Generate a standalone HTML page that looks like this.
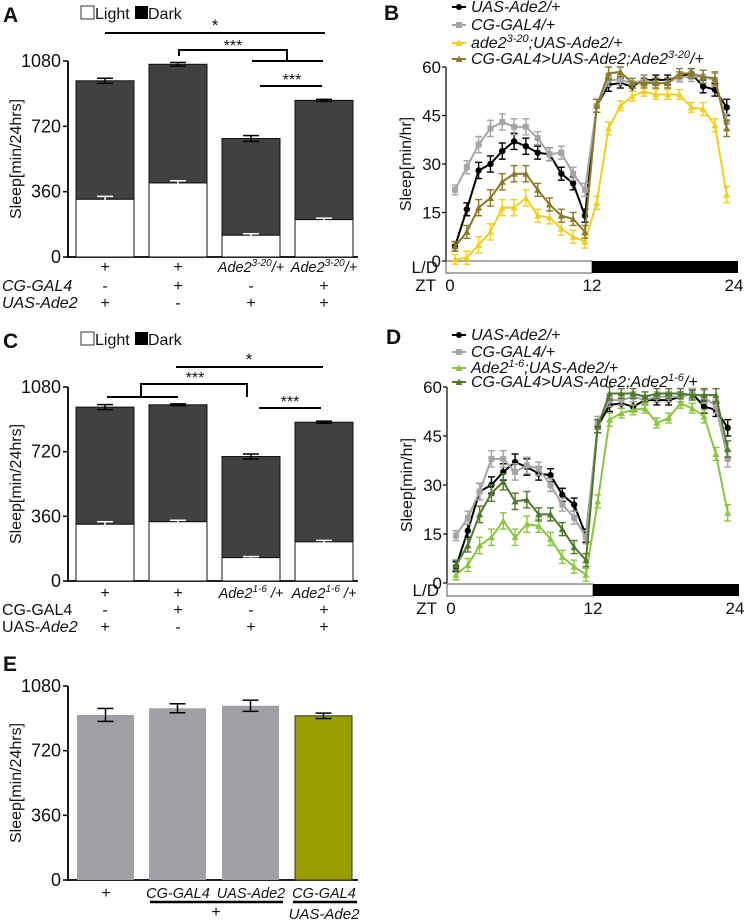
<!DOCTYPE html>
<html><head><meta charset="utf-8"><style>
html,body{margin:0;padding:0;background:#fff;}
svg{display:block;font-family:"Liberation Sans",Arial,sans-serif;}
</style></head><body>
<svg id="fig" width="749" height="923" viewBox="0 0 749 923" xmlns="http://www.w3.org/2000/svg"></svg>
<script>
// ---------- data ----------
const barGroups = ["g1","g2","g3","g4"];
const aTotal = [971, 1062, 653, 863];
const aLight = [318, 408, 120, 206];
const aTotalErr = [14, 10, 16, 6];
const aLightErr = [16, 12, 8, 8];
const cTotal = [968, 981, 693, 884];
const cLight = [316, 330, 130, 218];
const cTotalErr = [14, 5, 14, 6];
const cLightErr = [14, 8, 6, 8];
const eValues = [919, 956, 970, 914];
const eErr = [36, 25, 31, 15];
const barTicks = [0, 360, 720, 1080];

const hours = [1,2,3,4,5,6,7,8,9,10,11,12,13,14,15,16,17,18,19,20,21,22,23,24];
const lineTicks = [0, 15, 30, 45, 60];
const bUas  = [4.5,16,28,30,34,37,35.5,33.5,33,27,24,14,48,54.5,55,54,56,56,56,57,58,54,53,47.5];
const bCg   = [22,29,36,41,43,41.5,41.5,38,33,33.5,27,22,48,56,56,55,56,55,55,57,57,57,56,43];
const bMut  = [0.5,1,5,9,16.5,16.5,19.5,14,13.5,10,7.5,6,18,41,48,51,52.5,51.5,51.5,51.5,47.5,47,42,20.5];
const bRes  = [4.5,9,16.5,19.5,24.5,27,27,22,17.5,14,13,9,48,58,58.5,55,55,55,55,58,58,57,56.5,41];
const dUas  = [5,16,28,30,34,37,35.5,33.5,33,27,24,14.5,48,54.5,55,54,56,56,56,57,58,54,53,47.5];
const dCg   = [14.5,20,28,38,38,34,36,35,30,24,20,14,49,56,56,57,56,57,57,57,58,57,54,38];
const dMut  = [2.5,5.5,11.5,14,19,14,18,17.5,13.5,8,5,2.5,25,50,52,53,53.5,49,50.5,55,53.5,51,39.5,21.5];
const dRes  = [5.5,11.5,21,27.5,31,25,25.5,21,21,16.5,11,7,48,58,58,58,57,58,58,58,57.5,57.5,57.5,41];
const lineErr = [1.5,2,2.5,2.5,2.5,2.5,2.5,2,2,2,2,2,2,2,1.5,1.5,1.5,1.5,1.5,1.5,1.5,2,2,2.5];

// ---------- helpers ----------
const NS="http://www.w3.org/2000/svg";
const svg=document.getElementById('fig');
function mk(tag,attrs,parent,text){const e=document.createElementNS(NS,tag);for(const k in attrs)e.setAttribute(k,attrs[k]);if(text!==undefined)e.textContent=text;(parent||svg).appendChild(e);return e;}
function grp(name,parent){const g=mk('g',{},parent);return g;}
function txt(parent,x,y,s,opt){opt=opt||{};const t=mk('text',{x:x,y:y,'font-size':opt.size||15,'text-anchor':opt.anchor||'middle',fill:opt.fill||'#111'},parent);if(opt.italic)t.setAttribute('font-style','italic');if(opt.bold)t.setAttribute('font-weight','bold');if(opt.rot)t.setAttribute('transform','rotate(-90 '+x+' '+y+')');t.innerHTML=s;return t;}
function line(p,x1,y1,x2,y2,c,w){return mk('line',{x1:x1,y1:y1,x2:x2,y2:y2,stroke:c||'#000','stroke-width':w||1.5},p);}

const barX=[76,149,222,295], barW=58;
function barAxis(name,y0,y1080,xEnd){
  const g=grp(name+'-axes');
  const ys=v=>y0-(v/1080)*(y0-y1080);
  line(g,68,y1080,68,y0+1,'#000',1.8);
  line(g,68,y0,xEnd,y0,'#000',1.8);
  barTicks.forEach(t=>{line(g,63,ys(t),68,ys(t),'#000',1.5);const l=txt(g,61,ys(t)+6,t,{anchor:'end',size:18});});
  const yl=txt(g,21,(y0+y1080)/2,'Sleep[min/24hrs]',{size:16,rot:true});
  
  return ys;
}
function errBar(p,x,y,e,ys,c){line(p,x,ys(y+e),x,ys(y-e),c,1.5);line(p,x-8,ys(y+e),x+8,ys(y+e),c,1.5);line(p,x-8,ys(y-e),x+8,ys(y-e),c,1.5);}
function stacked(name,ys,tot,lig,tErr,lErr){
  const g=grp(name+'-bars');
  barGroups.forEach((k,i)=>{
    const x=barX[i];
    const d=mk('rect',{x:x,y:ys(tot[i]),width:barW,height:ys(lig[i])-ys(tot[i]),fill:'#414141',stroke:'#111','stroke-width':1},g);
    
    const l=mk('rect',{x:x,y:ys(lig[i]),width:barW,height:ys(0)-ys(lig[i]),fill:'#fff',stroke:'#111','stroke-width':1},g);
    
    errBar(g,x+barW/2,tot[i],tErr[i],ys,'#000');
    errBar(g,x+barW/2,lig[i],lErr[i],ys,'#fff');
  });
}
function legendLD(y,name){
  const g=grp(name);
  mk('rect',{x:81,y:y-13,width:13,height:13,fill:'#fff',stroke:'#333'},g);
  txt(g,95,y,'Light',{anchor:'start',size:16});
  mk('rect',{x:135,y:y-13,width:13,height:13,fill:'#000'},g);
  txt(g,148,y,'Dark',{anchor:'start',size:16});
}

// ---------- Panel A ----------
txt(svg,3,22,'A',{anchor:'start',size:21,bold:true});
legendLD(19,'legend-a');
let ysA=barAxis('panel-a',257,61,358);
stacked('panel-a',ysA,aTotal,aLight,aTotalErr,aLightErr);
{const g=grp('significance-a');
 txt(g,215,31,'*',{size:17});line(g,105,33,325,33,'#000',2);
 txt(g,233,51,'***',{size:16});
 mk('polyline',{points:'179,56 179,50 287,50 287,61',fill:'none',stroke:'#000','stroke-width':2},g);
 line(g,252,61,323,61,'#000',2);
 txt(g,292,85,'***',{size:16});line(g,260,86,322,86,'#000',2);
 const cx=barX.map(x=>x+barW/2);
 ['+','+','Ade2<tspan dy="-6" font-size="10">3-20</tspan><tspan dy="6">/+</tspan>','Ade2<tspan dy="-6" font-size="10">3-20</tspan><tspan dy="6">/+</tspan>'].forEach((s,i)=>txt(g,cx[i],272,s,{size:i>1?14.5:16,italic:i>1}));
 txt(g,2,291,'CG-GAL4',{anchor:'start',size:16,italic:true});
 ['-','+','-','+'].forEach((s,i)=>txt(g,cx[i],291,s,{size:16}));
 txt(g,2,308,'UAS-Ade2',{anchor:'start',size:16,italic:true});
 ['+','-','+','+'].forEach((s,i)=>txt(g,cx[i],308,s,{size:16}));
}

// ---------- Panel C ----------
txt(svg,3,348,'C',{anchor:'start',size:21,bold:true});
legendLD(345,'legend-c');
let ysC=barAxis('panel-c',581,387,358);
stacked('panel-c',ysC,cTotal,cLight,cTotalErr,cLightErr);
{const g=grp('significance-c');
 txt(g,249,365,'*',{size:17});line(g,176,367,323,367,'#000',2);
 txt(g,195,383,'***',{size:16});
 mk('polyline',{points:'141,397 141,384 247,384 247,397',fill:'none',stroke:'#000','stroke-width':2},g);
 line(g,107,397,178,397,'#000',2);
 txt(g,290,407,'***',{size:16});line(g,259,408,321,408,'#000',2);
 const cx=barX.map(x=>x+barW/2);
 ['+','+','Ade2<tspan dy="-6" font-size="10">1-6</tspan><tspan dy="6"> /+</tspan>','Ade2<tspan dy="-6" font-size="10">1-6</tspan><tspan dy="6"> /+</tspan>'].forEach((s,i)=>txt(g,cx[i],598,s,{size:i>1?14.5:16,italic:i>1}));
 txt(g,2,615,'CG-GAL4',{anchor:'start',size:16});
 ['-','+','-','+'].forEach((s,i)=>txt(g,cx[i],615,s,{size:16}));
 txt(g,2,632,'UAS-<tspan font-style="italic">Ade2</tspan>',{anchor:'start',size:16});
 ['+','-','+','+'].forEach((s,i)=>txt(g,cx[i],632,s,{size:16}));
}

// ---------- Panel E ----------
txt(svg,3,671,'E',{anchor:'start',size:21,bold:true});
let ysE=barAxis('panel-e',880,686,358);
{const g=grp('panel-e-bars');
 const ex=[77,149,222,295], ew=57;
 eValues.forEach((v,i)=>{
  const r=mk('rect',{x:ex[i],y:ysE(v),width:ew,height:ysE(0)-ysE(v),fill:i<3?'#a09fa6':'#9a9d00',stroke:i<3?'none':'#333','stroke-width':1},g);
  
  errBar(g,ex[i]+ew/2,v,eErr[i],ysE,'#000');
 });
 txt(g,106,898,'+',{size:16});
 txt(g,178,898,'CG-GAL4',{size:14.5,italic:true});
 txt(g,251,898,'UAS-Ade2',{size:14.5,italic:true});
 txt(g,324,898,'CG-GAL4',{size:14.5,italic:true});
 line(g,150,902,283,902,'#000',2.5);line(g,293,902,357,902,'#000',2.5);
 txt(g,216,917,'+',{size:16});
 txt(g,324,919,'UAS-Ade2',{size:15,italic:true});
}

// ---------- line panels ----------
function linePanel(name,x0,x24,y0,y60,series,legendY,ldTop){
  const g=grp(name);
  const xs=h=>x0+(0.74+(h-1)*0.971)/24*(x24-x0);
  const ys=v=>y0-v/60*(y0-y60);
  line(g,x0,y60,x0,y0,'#000',1.2);
  lineTicks.forEach(t=>{line(g,x0-4,ys(t),x0,ys(t),'#000',1.2);const l=txt(g,x0-5,ys(t)+6,t,{anchor:'end',size:17});});
  const yl=txt(g,x0-35,(y0+y60)/2,'Sleep[min/hr]',{size:16,rot:true});
  
  const mid=(x0+x24)/2;
  const ld=grp(name+'-ld-bar',g);
  mk('rect',{x:x0,y:ldTop,width:mid-x0,height:12,fill:'#fff',stroke:'#555'},ld);
  mk('rect',{x:mid,y:ldTop,width:x24-mid,height:12,fill:'#000'},ld);
  txt(g,x0-8,ldTop+12,'L/D',{anchor:'end',size:17});
  txt(g,x0-10,ldTop+30,'ZT',{anchor:'end',size:17});
  txt(g,x0+4,ldTop+30,'0',{size:17});txt(g,mid,ldTop+30,'12',{size:17});txt(g,x24-4,ldTop+30,'24',{size:17});
  series.forEach((s,si)=>{
    const sg=grp(name+'-series-'+s.key,g);
    const pts=hours.map((h,i)=>xs(h)+','+ys(s.vals[i])).join(' ');
    mk('polyline',{points:pts,fill:'none',stroke:s.c,'stroke-width':2},sg);
    hours.forEach((h,i)=>{
      const x=xs(h),v=s.vals[i],e=lineErr[i];
      line(sg,x,ys(v+e),x,ys(v-e),s.c,1.4);line(sg,x-3.5,ys(v+e),x+3.5,ys(v+e),s.c,1.4);line(sg,x-3.5,ys(v-e),x+3.5,ys(v-e),s.c,1.4);
      if(s.m==='c')mk('circle',{cx:x,cy:ys(v),r:3.2,fill:s.c},sg);
      else if(s.m==='s')mk('rect',{x:x-3,y:ys(v)-3,width:6,height:6,fill:s.c},sg);
      else mk('polygon',{points:(x)+','+(ys(v)-3.5)+' '+(x-3.5)+','+(ys(v)+3)+' '+(x+3.5)+','+(ys(v)+3),fill:s.c},sg);
    });
    const lg=grp('legend-entry-'+s.key,g);
    const ly=legendY[si];
    line(lg,452,ly,466,ly,s.c,2);
    if(s.m==='c')mk('circle',{cx:459,cy:ly,r:3,fill:s.c},lg);
    else if(s.m==='s')mk('rect',{x:456,y:ly-3,width:6,height:6,fill:s.c},lg);
    else mk('polygon',{points:'459,'+(ly-3.5)+' 455.5,'+(ly+3)+' 462.5,'+(ly+3),fill:s.c},lg);
    txt(lg,471,ly+5,s.label,{anchor:'start',size:16,italic:true});
  });
}
txt(svg,384,20,'B',{anchor:'start',size:21,bold:true});
linePanel('panel-b',446,738,261,67,[
 {key:'uas',vals:bUas,c:'#000',m:'c',label:'UAS-Ade2/+'},
 {key:'cg',vals:bCg,c:'#a5a5a5',m:'s',label:'CG-GAL4/+'},
 {key:'mutant',vals:bMut,c:'#f0cf1e',m:'t',label:'ade2<tspan dy="-6" font-size="11">3-20</tspan><tspan dy="6">;UAS-Ade2/+</tspan>'},
 {key:'rescue',vals:bRes,c:'#8a7a25',m:'t',label:'CG-GAL4&gt;UAS-Ade2;Ade2<tspan dy="-6" font-size="11">3-20</tspan><tspan dy="6">/+</tspan>'}
],[7,25,43,59],261);
txt(svg,386,344,'D',{anchor:'start',size:21,bold:true});
linePanel('panel-d',447,739,583,387,[
 {key:'uas',vals:dUas,c:'#000',m:'c',label:'UAS-Ade2/+'},
 {key:'cg',vals:dCg,c:'#a5a5a5',m:'s',label:'CG-GAL4/+'},
 {key:'mutant',vals:dMut,c:'#8cc63f',m:'t',label:'Ade2<tspan dy="-6" font-size="11">1-6</tspan><tspan dy="6">;UAS-Ade2/+</tspan>'},
 {key:'rescue',vals:dRes,c:'#4f7a2a',m:'t',label:'CG-GAL4&gt;UAS-Ade2;Ade2<tspan dy="-6" font-size="11">1-6</tspan><tspan dy="6">/+</tspan>'}
],[335,352,368,382],584);
</script>
</body></html>
